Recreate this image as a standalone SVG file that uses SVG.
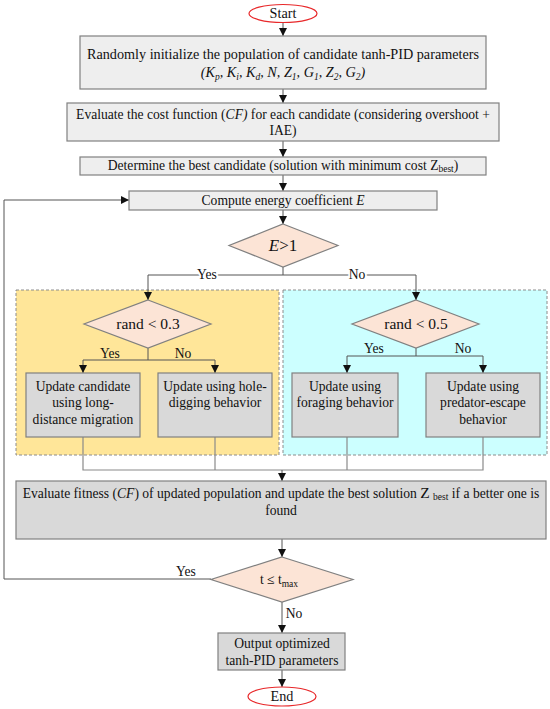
<svg xmlns="http://www.w3.org/2000/svg" width="550" height="709" viewBox="0 0 550 709">
<style>
  .t { font-family: "Liberation Serif", "Times New Roman", serif; font-size: 13.6px; fill: #111; text-anchor: middle; }
  .l1 { font-size: 14.2px; }
  .big { font-size: 17px; }
  .mid { font-size: 15.5px; }
  .it { font-style: italic; }
  .sub { font-size: 9.5px; }
  .box1 { fill: #eeeeee; stroke: #808080; stroke-width: 1.2; }
  .box2 { fill: #d9d9d9; stroke: #808080; stroke-width: 1.2; }
  .dia { fill: #fce4d6; stroke: #808080; stroke-width: 1.2; }
  .term { fill: #ffffff; stroke: #e8282a; stroke-width: 1.2; }
  .cont { stroke: #8c8c8c; stroke-width: 1; stroke-dasharray: 3 2; }
  .ln { fill: none; stroke: #555; stroke-width: 1; }
  .ln2 { fill: none; stroke: #8a8a8a; stroke-width: 1.2; }
  .lbl { paint-order: stroke; stroke: #fff; stroke-width: 4px; }
</style>
<defs>
  <marker id="ah" markerUnits="userSpaceOnUse" markerWidth="8" markerHeight="9" refX="8" refY="4" orient="auto">
    <path d="M0,0 L8,4 L0,8 z" fill="#111"/>
  </marker>
</defs>

<g id="containers">
  <rect id="explore" x="16" y="290" width="263" height="165" fill="#ffe699" class="cont"/>
  <rect id="exploit" x="283" y="290" width="264" height="165" fill="#ccffff" class="cont"/>
</g>

<g id="connectors">
  <line class="ln" x1="283" y1="22" x2="283" y2="36" marker-end="url(#ah)"/>
  <line class="ln" x1="283" y1="89" x2="283" y2="103" marker-end="url(#ah)"/>
  <line class="ln" x1="283" y1="141" x2="283" y2="157" marker-end="url(#ah)"/>
  <line class="ln" x1="283" y1="175" x2="283" y2="191" marker-end="url(#ah)"/>
  <line class="ln" x1="283" y1="210" x2="283" y2="224" marker-end="url(#ah)"/>
  <polyline class="ln" points="283,267 283,275"/>
  <polyline class="ln" points="148,275 416,275"/>
  <polyline class="ln" points="148,275 148,300" marker-end="url(#ah)"/>
  <polyline class="ln" points="416,275 416,300" marker-end="url(#ah)"/>
  <text class="t lbl" x="207" y="279">Yes</text>
  <text class="t lbl" x="357" y="279">No</text>
  <polyline class="ln" points="148,348 148,360"/>
  <polyline class="ln" points="83,360 215,360"/>
  <polyline class="ln" points="83,360 83,373" marker-end="url(#ah)"/>
  <polyline class="ln" points="215,360 215,373" marker-end="url(#ah)"/>
  <text class="t" x="110" y="358">Yes</text>
  <text class="t" x="183" y="358">No</text>
  <polyline class="ln" points="416,348 416,356"/>
  <polyline class="ln" points="347,356 483,356"/>
  <polyline class="ln" points="347,356 347,373" marker-end="url(#ah)"/>
  <polyline class="ln" points="483,356 483,373" marker-end="url(#ah)"/>
  <text class="t" x="374" y="353">Yes</text>
  <text class="t" x="463" y="353">No</text>
  <polyline class="ln2" points="83,437 83,470 483,470 483,437"/>
  <polyline class="ln2" points="215,437 215,470"/>
  <polyline class="ln2" points="347,437 347,470"/>
  <line class="ln" x1="282" y1="470" x2="282" y2="481" marker-end="url(#ah)"/>
  <line class="ln" x1="282" y1="539" x2="282" y2="557" marker-end="url(#ah)"/>
  <polyline class="ln" points="211,579 4,579 4,200 129,200" marker-end="url(#ah)"/>
  <text class="t" x="186" y="576">Yes</text>
  <line class="ln" x1="282" y1="602" x2="282" y2="633" marker-end="url(#ah)"/>
  <text class="t" x="294" y="618">No</text>
  <line class="ln" x1="282" y1="670" x2="282" y2="687" marker-end="url(#ah)"/>
</g>

<g id="start">
  <ellipse class="term" cx="283" cy="13.5" rx="34" ry="9"/>
  <text class="t l1" x="283" y="18">Start</text>
</g>

<g id="init">
  <rect class="box1" x="80" y="36" width="406" height="53"/>
  <text class="t l1" x="283" y="59">Randomly initialize the population of candidate tanh-PID parameters</text>
  <text class="t l1 it" x="283" y="77">(K<tspan class="sub" dy="3">p</tspan><tspan dy="-3">, K</tspan><tspan class="sub" dy="3">i</tspan><tspan dy="-3">,  K</tspan><tspan class="sub" dy="3">d</tspan><tspan dy="-3">, N, Z</tspan><tspan class="sub" dy="3">1</tspan><tspan dy="-3">, G</tspan><tspan class="sub" dy="3">1</tspan><tspan dy="-3">, Z</tspan><tspan class="sub" dy="3">2</tspan><tspan dy="-3">, G</tspan><tspan class="sub" dy="3">2</tspan><tspan dy="-3">)</tspan></text>
</g>

<g id="evalcost">
  <rect class="box1" x="67" y="103" width="432" height="38"/>
  <text class="t" x="283" y="119">Evaluate the cost function (<tspan class="it">CF)</tspan> for each candidate (considering overshoot +</text>
  <text class="t" x="283" y="135">IAE)</text>
</g>

<g id="best">
  <rect class="box1" x="80" y="157" width="406" height="18"/>
  <text class="t" x="283" y="170">Determine the best candidate (solution with minimum cost  Z<tspan class="sub" dy="2">best</tspan><tspan dy="-2">)</tspan></text>
</g>

<g id="energy">
  <rect class="box1" x="129" y="191" width="308" height="19"/>
  <text class="t" x="283" y="205">Compute energy coefficient <tspan class="it">E</tspan></text>
</g>

<g id="e_gt_1">
  <polygon class="dia" points="283,224 338,245.5 283,267 229,245.5"/>
  <text class="t big" x="283" y="251"><tspan class="it">E</tspan>&gt;1</text>
</g>

<g id="rand03">
  <polygon class="dia" points="148,300 211,324 148,348 84,324"/>
  <text class="t mid" x="148" y="329">rand &lt; 0.3</text>
</g>

<g id="rand05">
  <polygon class="dia" points="416,300 479,324 416,348 352,324"/>
  <text class="t mid" x="416" y="329">rand &lt; 0.5</text>
</g>

<g id="migration">
  <rect class="box2" x="26" y="373" width="114" height="64"/>
  <text class="t" x="83" y="391">Update candidate</text>
  <text class="t" x="83" y="407">using long-</text>
  <text class="t" x="83" y="424">distance migration</text>
</g>

<g id="digging">
  <rect class="box2" x="158" y="373" width="114" height="64"/>
  <text class="t" x="215" y="391">Update using hole-</text>
  <text class="t" x="215" y="407">digging behavior</text>
</g>

<g id="foraging">
  <rect class="box2" x="292" y="373" width="106" height="64"/>
  <text class="t" x="345" y="391">Update using</text>
  <text class="t" x="345" y="407">foraging behavior</text>
</g>

<g id="escape">
  <rect class="box2" x="426" y="373" width="114" height="64"/>
  <text class="t" x="483" y="391">Update using</text>
  <text class="t" x="483" y="407">predator-escape</text>
  <text class="t" x="483" y="424">behavior</text>
</g>

<g id="fitness">
  <rect class="box2" x="16" y="481" width="530" height="58"/>
  <text class="t" x="281" y="498">Evaluate fitness (<tspan class="it">CF</tspan>) of updated population and update the best solution <tspan font-size="15.5">Z</tspan> <tspan class="sub" dy="2">best</tspan><tspan dy="-2"> if a better one is</tspan></text>
  <text class="t" x="281" y="515">found</text>
</g>

<g id="t_le_tmax">
  <polygon class="dia" points="282,557 353,579.5 282,602 211,579.5"/>
  <text class="t" x="279" y="584">t ≤ t<tspan class="sub" dy="3">max</tspan></text>
</g>

<g id="output">
  <rect class="box2" x="218" y="633" width="127" height="37"/>
  <text class="t" x="282" y="648">Output optimized</text>
  <text class="t" x="282" y="665">tanh-PID parameters</text>
</g>

<g id="end">
  <ellipse class="term" cx="282" cy="696.5" rx="34" ry="9.5"/>
  <text class="t l1" x="282" y="701">End</text>
</g>
</svg>
